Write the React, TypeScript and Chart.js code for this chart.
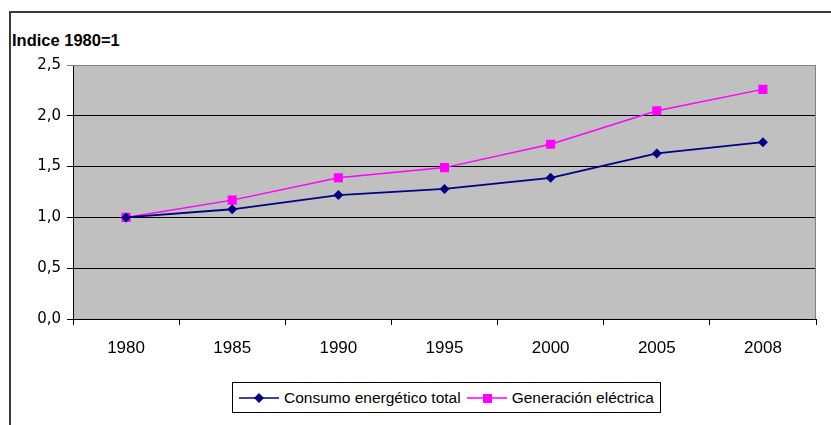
import React, { useEffect, useRef } from 'react';
import { Chart, registerables } from 'chart.js';
Chart.register(...registerables);

const years = ['1980', '1985', '1990', '1995', '2000', '2005', '2008'];
const consumo = [1.0, 1.08, 1.22, 1.28, 1.39, 1.63, 1.74];
const generacion = [1.0, 1.17, 1.39, 1.49, 1.72, 2.05, 2.26];
const seriesNames = ['Consumo energético total', 'Generación eléctrica'];
const seriesColors = ['#000080', '#FF00FF'];
const yTitle = 'Indice 1980=1';
const yMin = 0;
const yMax = 2.5;
const yStep = 0.5;

const FONT = '"Liberation Sans", Arial, sans-serif';
const NARROW = '"Liberation Sans Narrow", "Liberation Sans", Arial, sans-serif';

const plotBg = {
  id: 'plotBg',
  beforeDraw(chart: any) {
    const { ctx, chartArea: a } = chart;
    ctx.save();
    ctx.fillStyle = '#C0C0C0';
    ctx.fillRect(a.left, a.top, a.right - a.left, a.bottom - a.top);
    ctx.restore();
  },
  afterDraw(chart: any) {
    const { ctx, chartArea: a } = chart;
    ctx.save();
    ctx.strokeStyle = '#808080';
    ctx.lineWidth = 1;
    ctx.beginPath();
    ctx.moveTo(a.left, a.top + 0.5);
    ctx.lineTo(Math.round(a.right) - 0.5, a.top + 0.5);
    ctx.lineTo(Math.round(a.right) - 0.5, a.bottom);
    ctx.stroke();
    ctx.restore();
  },
};

function Legend() {
  return (
    <div
      style={{
        position: 'absolute',
        left: 232,
        top: 382,
        width: 429,
        height: 31,
        boxSizing: 'border-box',
        border: '1px solid #000',
        background: '#fff',
        display: 'flex',
        alignItems: 'center',
        paddingLeft: 6,
        fontFamily: FONT,
        fontSize: 15.5,
        color: '#000',
        whiteSpace: 'nowrap',
      }}
    >
      {seriesNames.map((name, i) => (
        <div key={name} style={{ display: 'flex', alignItems: 'center', marginRight: 6 }}>
          <svg width={40} height={14} style={{ marginRight: 5 }}>
            <line x1={0} y1={7} x2={40} y2={7} stroke={seriesColors[i]} strokeWidth={1.5} />
            {i === 0 ? (
              <polygon points="20,2 25,7 20,12 15,7" fill={seriesColors[i]} />
            ) : (
              <rect x={16} y={3} width={9} height={9} fill={seriesColors[i]} />
            )}
          </svg>
          <span>{name}</span>
        </div>
      ))}
    </div>
  );
}

export default function App() {
  const ref = useRef<HTMLCanvasElement>(null);
  useEffect(() => {
    if (!ref.current) return;
    const chart = new Chart(ref.current, {
      type: 'line',
      data: {
        labels: years,
        datasets: [
          {
            label: seriesNames[0],
            data: consumo,
            borderColor: seriesColors[0],
            backgroundColor: seriesColors[0],
            borderWidth: 1.8,
            pointStyle: 'rectRot',
            pointRadius: 5,
            pointBorderWidth: 0,
            tension: 0,
          },
          {
            label: seriesNames[1],
            data: generacion,
            borderColor: seriesColors[1],
            backgroundColor: seriesColors[1],
            borderWidth: 1.5,
            pointStyle: 'rect',
            pointRadius: 6.4,
            pointBorderWidth: 0,
            tension: 0,
          },
        ],
      },
      options: {
        animation: false,
        responsive: false,
        devicePixelRatio: 1,
        layout: { padding: { left: 0, right: 15, top: 65, bottom: 66 } },
        plugins: { legend: { display: false }, tooltip: { enabled: false } },
        scales: {
          x: {
            type: 'category',
            offset: true,
            afterFit: (s: any) => {
              s.height = 40;
            },
            grid: {
              offset: true,
              drawOnChartArea: false,
              tickLength: 6,
              color: '#000',
            },
            border: { color: '#000', width: 1 },
            ticks: {
              color: '#000',
              font: { family: NARROW, size: 17 },
              padding: 13,
              maxRotation: 0,
            },
          },
          y: {
            min: yMin,
            max: yMax,
            afterFit: (s: any) => {
              s.width = 73;
            },
            grid: {
              tickLength: 6,
              color: (c: any) => (c.tick && c.tick.value === yMax ? '#808080' : '#000'),
            },
            border: { color: '#000', width: 1 },
            ticks: {
              stepSize: yStep,
              color: '#000',
              font: { family: '"DejaVu Sans", sans-serif', size: 15 },
              padding: 6,
              callback: (v: any) => Number(v).toFixed(1).replace('.', ','),
            },
          },
        },
      },
      plugins: [plotBg],
    });
    return () => chart.destroy();
  }, []);

  return (
    <div style={{ position: 'absolute', left: 0, top: 0, width: 831, height: 425, overflow: 'hidden', background: '#fff' }}>
      <div
        style={{
          position: 'absolute',
          left: 9,
          top: 11,
          width: 900,
          height: 500,
          border: '2px solid #3a3a3a',
        }}
      />
      <div
        style={{
          position: 'absolute',
          left: 12,
          top: 31,
          fontFamily: NARROW,
          fontWeight: 'bold',
          fontSize: 16.5,
          color: '#000',
          whiteSpace: 'nowrap',
        }}
      >
        {yTitle}
      </div>
      <canvas ref={ref} width={831} height={425} style={{ position: 'absolute', left: 0, top: 0, width: 831, height: 425 }} />
      <Legend />
    </div>
  );
}
